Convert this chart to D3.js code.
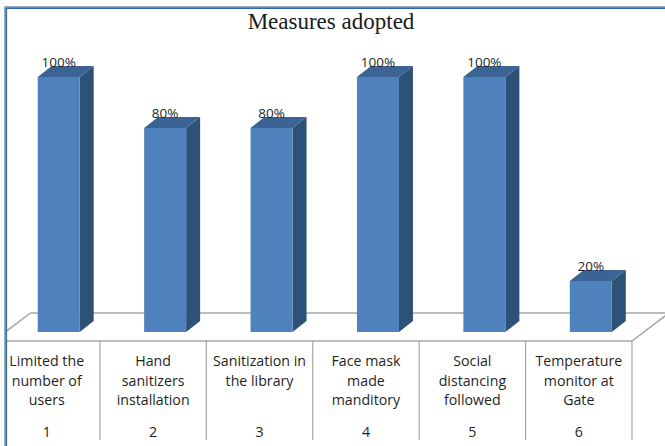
<!DOCTYPE html>
<html>
<head>
<meta charset="utf-8">
<script src="https://cdn.jsdelivr.net/npm/d3@7"></script>
<style>
  html, body { margin: 0; padding: 0; background: #fff; }
  svg { display: block; }
</style>
</head>
<body>
<svg id="chart" width="665" height="446"></svg>
<script>
// Measures adopted — share of libraries applying each measure
const categories = [
  ["Limited the", "number of", "users"],
  ["Hand", "sanitizers", "installation"],
  ["Sanitization in", "the library"],
  ["Face mask", "made", "manditory"],
  ["Social", "distancing", "followed"],
  ["Temperature", "monitor at", "Gate"]
];
const categoryNumbers = ["1", "2", "3", "4", "5", "6"];
const values = [1.0, 0.8, 0.8, 1.0, 1.0, 0.2];
const valueLabels = ["100%", "80%", "80%", "100%", "100%", "20%"];
const title = "Measures adopted";

const W = 665, H = 446;
const svg = d3.select("#chart");

// Column layout shared by the bars and the category table
const x = d3.scaleBand()
  .domain(d3.range(categories.length))
  .range([-6.5, 632])
  .padding(0);

// Value scale (front face of the columns)
const y = d3.scaleLinear().domain([0, 1]).range([332, 77]);

const tableTop = 341, tableBottom = 440;
const floorDX = 37, floorDY = 28;      // floor depth
const barDX = 14, barDY = 11;          // column depth
const barW = 42;
const barShift = 12;                   // columns sit back from the floor's front edge

const colFront = "#4F81BD", colSide = "#2E5178", colTop = "#3B6393";
const gridGray = "#A6A6A6";
const textFont = "'Open Sans', sans-serif";

// clip the plot to the frame
svg.append("defs").append("clipPath").attr("id", "frameClip")
  .append("rect").attr("x", 7).attr("y", 9).attr("width", W).attr("height", H);

const g = svg.append("g").attr("clip-path", "url(#frameClip)");

// 3-D floor
const x0 = x.range()[0], x1 = x.range()[1];
g.append("path")
  .attr("d", `M${x0},${tableTop} L${x0 + floorDX},${tableTop - floorDY} L${x1 + floorDX},${tableTop - floorDY} L${x1},${tableTop}`)
  .attr("fill", "none")
  .attr("stroke", gridGray)
  .attr("stroke-width", 1.5);

// columns
const bars = g.selectAll("g.bar")
  .data(values)
  .join("g")
  .attr("class", "bar");

bars.each(function(v, i) {
  const sel = d3.select(this);
  const left = x(i) + x.bandwidth() / 2 + barShift - barW / 2;
  const right = left + barW;
  const top = y(v), bottom = y(0);
  // side face
  sel.append("path")
    .attr("d", `M${right},${bottom} L${right + barDX},${bottom - barDY} L${right + barDX},${top - barDY} L${right},${top} Z`)
    .attr("fill", colSide);
  // top face
  sel.append("path")
    .attr("d", `M${left},${top} L${left + barDX},${top - barDY} L${right + barDX},${top - barDY} L${right},${top} Z`)
    .attr("fill", colTop);
  // front face
  sel.append("rect")
    .attr("x", left).attr("y", top)
    .attr("width", barW).attr("height", bottom - top)
    .attr("fill", colFront);
  // value label
  sel.append("text")
    .attr("x", left + barW / 2)
    .attr("y", top - 10)
    .attr("text-anchor", "middle")
    .attr("font-family", textFont)
    .attr("font-size", 13.5)
    .attr("fill", "#1f1f1f")
    .text(valueLabels[i]);
});

// category table
g.append("line")
  .attr("x1", 0).attr("x2", x1)
  .attr("y1", tableTop).attr("y2", tableTop)
  .attr("stroke", gridGray).attr("stroke-width", 1.5);

g.selectAll("line.divider")
  .data(d3.range(1, categories.length + 1))
  .join("line")
  .attr("class", "divider")
  .attr("x1", d => x0 + d * x.step()).attr("x2", d => x0 + d * x.step())
  .attr("y1", tableTop).attr("y2", tableBottom)
  .attr("stroke", gridGray).attr("stroke-width", 1.2);

const cat = g.selectAll("text.cat")
  .data(categories)
  .join("text")
  .attr("class", "cat")
  .attr("x", (d, i) => x(i) + x.bandwidth() / 2)
  .attr("text-anchor", "middle")
  .attr("font-family", textFont)
  .attr("font-size", 14.2)
  .attr("fill", "#1f1f1f");

cat.selectAll("tspan")
  .data(d => d)
  .join("tspan")
  .attr("x", function() { return d3.select(this.parentNode).attr("x"); })
  .attr("y", (d, j) => 366 + j * 19.5)
  .text(d => d);

g.selectAll("text.num")
  .data(categoryNumbers)
  .join("text")
  .attr("class", "num")
  .attr("x", (d, i) => x(i) + x.bandwidth() / 2)
  .attr("y", 437)
  .attr("text-anchor", "middle")
  .attr("font-family", textFont)
  .attr("font-size", 14.2)
  .attr("fill", "#1f1f1f")
  .text(d => d);

// title
svg.append("text")
  .attr("x", 331)
  .attr("y", 29)
  .attr("text-anchor", "middle")
  .attr("font-family", "'Liberation Serif', 'Times New Roman', serif")
  .attr("font-size", 23)
  .attr("fill", "#1a1a1a")
  .text(title);

// frame
svg.append("path")
  .attr("d", `M4.5,${H + 5} L4.5,6.5 L${W + 5},6.5`)
  .attr("fill", "none").attr("stroke", "#9AA7B5").attr("stroke-width", 1);
svg.append("path")
  .attr("d", `M6.2,${H + 5} L6.2,8.2 L${W + 5},8.2`)
  .attr("fill", "none").attr("stroke", "#2A6AA8").attr("stroke-width", 1.8);
</script>
</body>
</html>
